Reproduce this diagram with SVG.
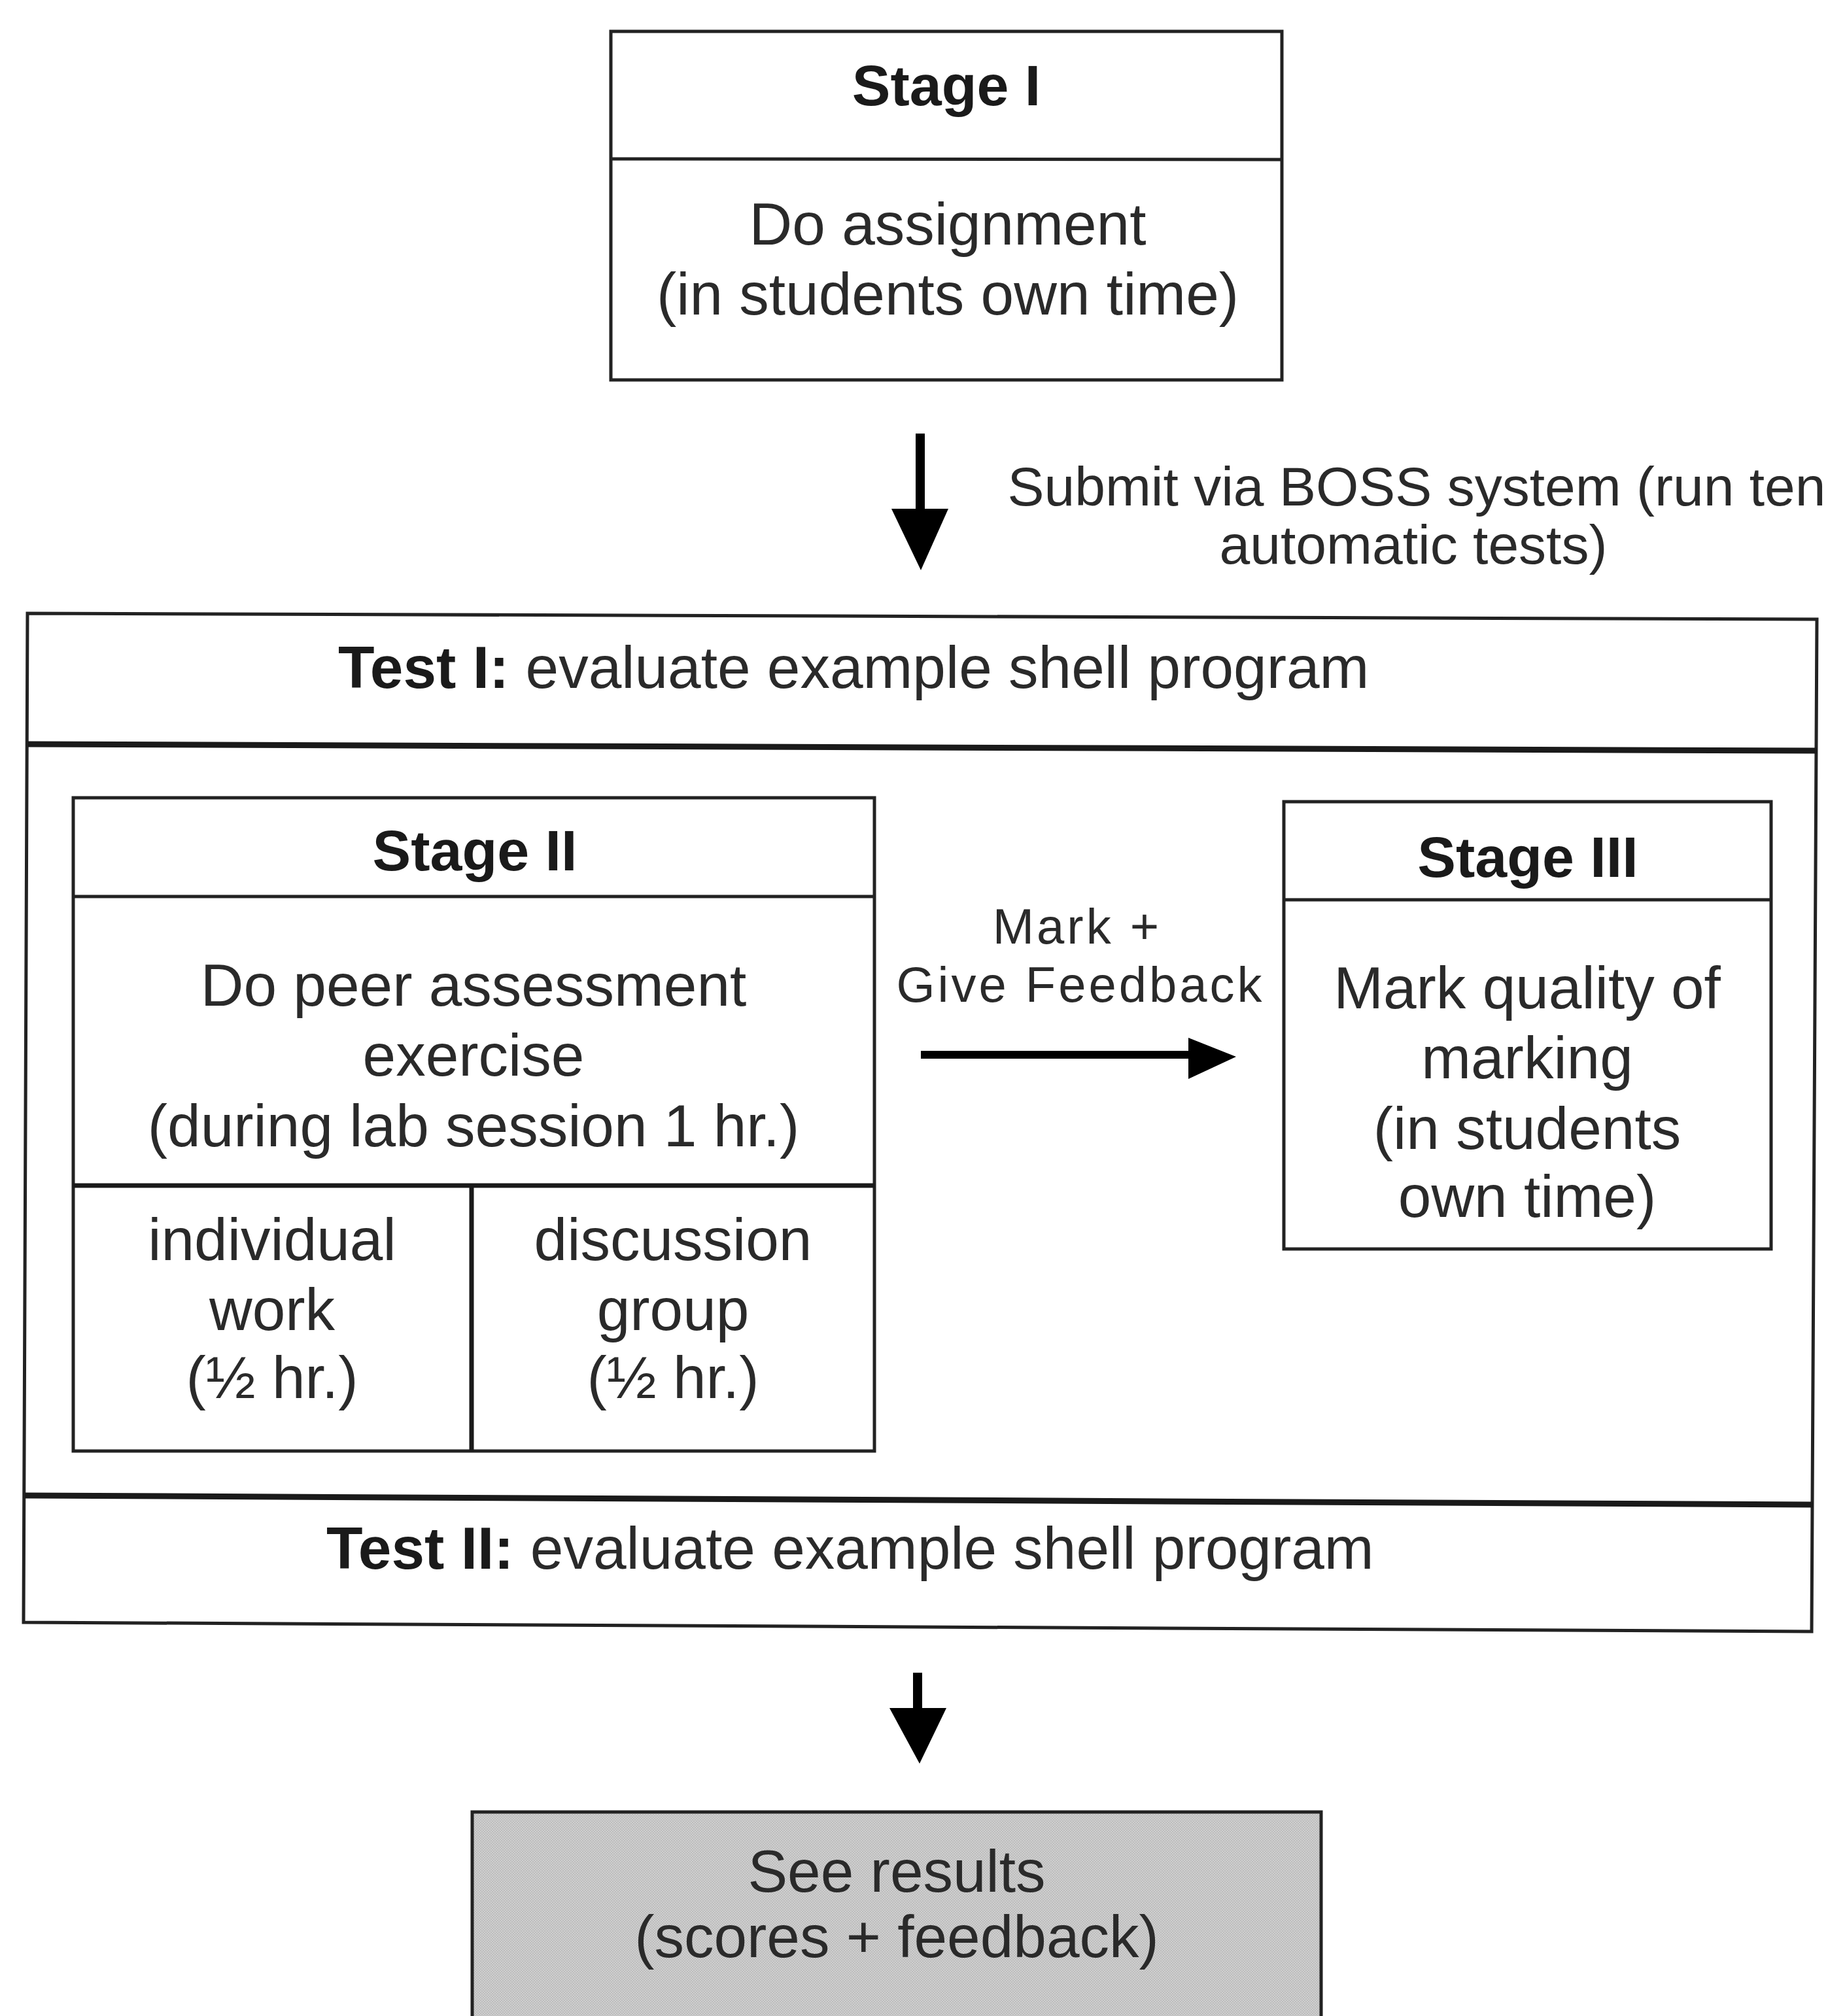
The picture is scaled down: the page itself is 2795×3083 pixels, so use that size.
<svg xmlns="http://www.w3.org/2000/svg" width="2795" height="3083" viewBox="0 0 2795 3083">
  <style>
    .box { fill: none; stroke: #222; stroke-width: 5; }
    .thick { fill: none; stroke: #1a1a1a; stroke-width: 9; }
    .mid { fill: none; stroke: #1a1a1a; stroke-width: 7; }
    .t { font-family: "Liberation Sans", Arial, sans-serif; font-size: 91px; fill: #2a2a2a; text-anchor: middle; }
    .h { font-family: "Liberation Sans", Arial, sans-serif; font-size: 88px; font-weight: bold; fill: #1a1a1a; text-anchor: middle; }
    .lbl { font-family: "Liberation Sans", Arial, sans-serif; font-size: 84px; fill: #2a2a2a; text-anchor: middle; }
    .lbl2 { font-family: "Liberation Sans", Arial, sans-serif; font-size: 76px; fill: #2a2a2a; text-anchor: middle; letter-spacing: 4px; }
    .arrow { fill: #000; stroke: none; }
  </style>
  <defs>
    <!-- fine two-tone dither used as the grey fill of the results box -->
    <pattern id="dither" width="4" height="4" patternUnits="userSpaceOnUse">
      <rect width="4" height="4" fill="#cfcfcf"/>
      <rect x="0" y="0" width="2" height="2" fill="#bdbdbd"/>
      <rect x="2" y="2" width="2" height="2" fill="#bdbdbd"/>
    </pattern>
  </defs>
  <rect width="2795" height="3083" fill="#fff"/>

  <!-- Stage I -->
  <g id="stage1">
    <rect class="box" x="934" y="48" width="1026" height="533"/>
    <line class="box" x1="934" y1="243" x2="1960" y2="244"/>
    <text class="h" x="1447" y="161">Stage I</text>
    <text class="t" x="1449" y="374">Do assignment</text>
    <text class="t" x="1449" y="481">(in students own time)</text>
  </g>

  <!-- Outer frame holding Test I, Stages II and III, Test II -->
  <g id="frame">
    <path class="box" d="M42,938 L2778,947 L2770,2495 L36,2481 Z"/>
  </g>

  <g id="test1">
    <path class="thick" d="M42,1138 L2778,1148"/>
    <text class="t" x="517" y="1052" style="text-anchor:start"><tspan font-weight="bold" fill="#1a1a1a">Test I:</tspan> evaluate example shell program</text>
  </g>

  <g id="test2">
    <path class="thick" d="M38,2287 L2772,2301"/>
    <text class="t" x="499" y="2399" style="text-anchor:start"><tspan font-weight="bold" fill="#1a1a1a">Test II:</tspan> evaluate example shell program</text>
  </g>

  <!-- Stage II -->
  <g id="stage2">
    <rect class="box" x="112" y="1220" width="1225" height="999"/>
    <line class="box" x1="112" y1="1371" x2="1337" y2="1371"/>
    <line class="mid" x1="112" y1="1813" x2="1337" y2="1813"/>
    <text class="h" x="726" y="1331">Stage II</text>
    <text class="t" x="724" y="1538">Do peer assessment</text>
    <text class="t" x="724" y="1645">exercise</text>
    <text class="t" x="724" y="1753">(during lab session 1 hr.)</text>
  </g>

  <g id="individual">
    <line class="mid" x1="721" y1="1813" x2="721" y2="2219"/>
    <text class="t" x="416" y="1927">individual</text>
    <text class="t" x="416" y="2034">work</text>
    <text class="t" x="416" y="2138">(½ hr.)</text>
  </g>

  <g id="discussion">
    <text class="t" x="1029" y="1927">discussion</text>
    <text class="t" x="1029" y="2034">group</text>
    <text class="t" x="1029" y="2138">(½ hr.)</text>
  </g>

  <!-- Stage III -->
  <g id="stage3">
    <rect class="box" x="1963" y="1226" width="745" height="684"/>
    <line class="box" x1="1963" y1="1376" x2="2708" y2="1376"/>
    <text class="h" x="2336" y="1341">Stage III</text>
    <text class="t" x="2335" y="1542">Mark quality of</text>
    <text class="t" x="2335" y="1649">marking</text>
    <text class="t" x="2335" y="1757">(in students</text>
    <text class="t" x="2335" y="1861">own time)</text>
  </g>

  <!-- Results -->
  <g id="results">
    <rect x="722" y="2771" width="1298" height="330" fill="url(#dither)" stroke="#222" stroke-width="5"/>
    <text class="t" x="1371" y="2893">See results</text>
    <text class="t" x="1371" y="2993">(scores + feedback)</text>
  </g>

  <!-- Connectors -->
  <g id="connectors">
    <rect class="arrow" x="1400" y="663" width="14" height="118"/>
    <path class="arrow" d="M1363,778 L1450,778 L1408,872 Z"/>
    <text class="lbl" x="2166" y="773">Submit via BOSS system (run ten</text>
    <text class="lbl" x="2161" y="862">automatic tests)</text>

    <rect class="arrow" x="1408" y="1607" width="412" height="12"/>
    <path class="arrow" d="M1817,1587 L1890,1616 L1817,1650 Z"/>
    <text class="lbl2" x="1647" y="1443">Mark +</text>
    <text class="lbl2" x="1652" y="1532">Give Feedback</text>

    <rect class="arrow" x="1396" y="2558" width="14" height="57"/>
    <path class="arrow" d="M1360,2612 L1447,2612 L1406,2697 Z"/>
  </g>
</svg>
